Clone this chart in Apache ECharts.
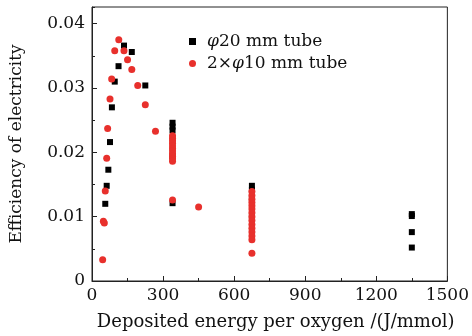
<!DOCTYPE html>
<html>
<head>
<meta charset="utf-8">
<script src="https://cdn.jsdelivr.net/npm/echarts@6/dist/echarts.min.js"></script>
<style>
  html, body { margin: 0; padding: 0; background: #fff; }
  #chart { width: 472px; height: 336px; }
</style>
</head>
<body>
<div id="chart"></div>
<script>
// phi 20 mm tube (black squares)
const tube20X = [56, 62, 69, 76, 84, 96, 112, 135, 168, 225,
  340, 340, 340, 340, 340,
  675, 675, 675, 675,
  1350, 1350, 1350, 1350];
const tube20Y = [0.0120, 0.0148, 0.0173, 0.0216, 0.0270, 0.0310, 0.0334, 0.0366, 0.0356, 0.0304,
  0.0246, 0.0240, 0.0234, 0.0194, 0.0121,
  0.0148, 0.0142, 0.0128, 0.0101,
  0.0104, 0.0101, 0.0076, 0.0052];

// 2 x phi 10 mm tube (red circles)
const tube10X = [45, 48, 52, 56, 62, 66, 76, 83, 96, 113, 135, 150, 168, 193, 225, 268,
  340, 340, 340, 340, 340, 340, 340, 340, 340, 340, 340, 340,
  450,
  675, 675, 675, 675, 675, 675, 675, 675, 675, 675, 675, 675, 675, 675, 675];
const tube10Y = [0.0033, 0.0093, 0.0090, 0.0140, 0.0191, 0.0237, 0.0283, 0.0314, 0.0358, 0.0375, 0.0358, 0.0344, 0.0329, 0.0304, 0.0274, 0.0233,
  0.0226, 0.0222, 0.0218, 0.0214, 0.0210, 0.0206, 0.0202, 0.0198, 0.0194, 0.0190, 0.0186, 0.0126,
  0.0115,
  0.0139, 0.0133, 0.0127, 0.0122, 0.0117, 0.0112, 0.0106, 0.0100, 0.0094, 0.0088, 0.0082, 0.0076, 0.0070, 0.0064, 0.0043];

const seriesNames = ['φ20 mm tube', '2×φ10 mm tube'];
const xTicks = [0, 300, 600, 900, 1200, 1500];

const pairs = (xs, ys) => xs.map((x, i) => [x, ys[i]]);
const font = 'DejaVu Serif';
const axisColor = '#222';

const chart = echarts.init(document.getElementById('chart'));
chart.setOption({
  animation: false,
  grid: {
    left: 91, right: 18, top: 7, bottom: 50,
    show: true, borderColor: axisColor, borderWidth: 1
  },
  legend: {
    orient: 'vertical',
    left: 184, top: 27,
    itemGap: 3,
    itemWidth: 7, itemHeight: 7,
    data: seriesNames,
    formatter: name => name.replace('φ', '{i|φ}'),
    textStyle: {
      fontFamily: font, fontSize: 17, color: '#111', lineHeight: 19,
      padding: [0, 0, 0, 6],
      rich: { i: { fontFamily: font, fontStyle: 'italic', fontSize: 17, color: '#111' } }
    }
  },
  xAxis: {
    type: 'value',
    min: xTicks[0], max: xTicks[xTicks.length - 1], interval: 300,
    name: 'Deposited energy per oxygen /(J/mmol)',
    nameLocation: 'middle', nameGap: 32,
    nameTextStyle: { fontFamily: font, fontSize: 18, color: '#111', padding: [0, 0, 0, 12] },
    axisLine: { lineStyle: { color: axisColor } },
    axisTick: { inside: true, length: 5, lineStyle: { color: axisColor } },
    minorTick: { show: true, splitNumber: 2, length: 3, lineStyle: { color: axisColor } },
    splitLine: { show: false },
    axisLabel: {
      fontFamily: font, fontSize: 17, color: '#111', margin: 6,
      formatter: v => String(v)
    }
  },
  yAxis: [{
    type: 'value',
    min: 0, max: 0.0426, interval: 0.01,
    name: 'Efficiency of electricity',
    nameLocation: 'middle', nameGap: 67,
    nameTextStyle: { fontFamily: font, fontSize: 17, color: '#111' },
    axisLine: { lineStyle: { color: axisColor } },
    axisTick: { inside: true, length: 5, lineStyle: { color: axisColor } },
    splitLine: { show: false },
    axisLabel: {
      fontFamily: font, fontSize: 17, color: '#111', margin: 7,
      showMaxLabel: false,
      formatter: v => (v === 0 ? '0' : v.toFixed(2))
    }
  }, {
    // minor ticks only
    type: 'value', position: 'left',
    min: 0, max: 0.0426, interval: 0.005,
    axisLine: { show: false },
    axisTick: { inside: true, length: 3, lineStyle: { color: axisColor } },
    axisLabel: { show: false },
    splitLine: { show: false }
  }],
  series: [{
    name: seriesNames[0],
    type: 'scatter',
    symbol: 'rect',
    symbolSize: 6,
    itemStyle: { color: '#000', opacity: 1 },
    data: pairs(tube20X, tube20Y)
  }, {
    name: seriesNames[1],
    type: 'scatter',
    symbol: 'circle',
    symbolSize: 7,
    itemStyle: { color: '#e8302c', opacity: 1 },
    data: pairs(tube10X, tube10Y)
  }]
});
</script>
</body>
</html>
